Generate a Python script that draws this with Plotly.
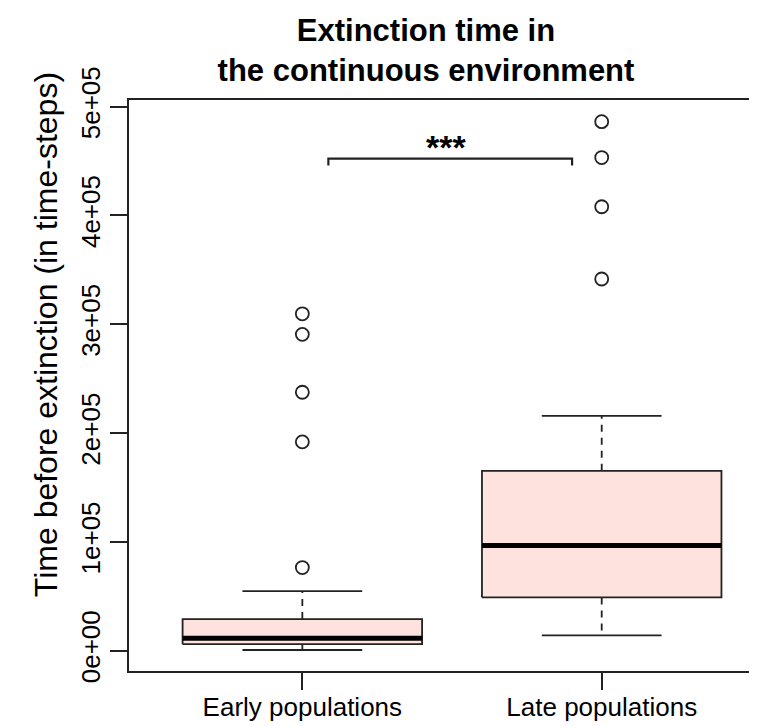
import plotly.graph_objects as go

# values (time-steps)
groups = ["Early populations", "Late populations"]
whisker_low = [600, 14000]
q1 = [6000, 48900]
median = [11500, 96600]
q3 = [29000, 165300]
whisker_high = [54700, 215700]
outliers = [
    [76400, 191900, 237500, 290700, 309600],
    [341600, 408000, 453200, 486200],
]
y_ticks = [0, 100000, 200000, 300000, 400000, 500000]
y_tick_labels = ["0e+00", "1e+05", "2e+05", "3e+05", "4e+05", "5e+05"]
sig_label = "***"

FONT = "Liberation Sans, Arial, sans-serif"
LINE = "#222222"
FILL = "#FDE2DE"
HALF_BOX = 0.4
HALF_CAP = 0.2

fig = go.Figure()


def add_line(xs, ys, width=1.8, dash=None, color=LINE):
    fig.add_trace(go.Scatter(
        x=xs, y=ys, mode="lines",
        line=dict(color=color, width=width, dash=dash),
        hoverinfo="skip", showlegend=False,
    ))


for i, name in enumerate(groups):
    x = i + 1
    # whiskers (dashed) and caps
    add_line([x, x], [q3[i], whisker_high[i]], dash="7px,6px")
    add_line([x, x], [q1[i], whisker_low[i]], dash="7px,6px")
    add_line([x - HALF_CAP, x + HALF_CAP], [whisker_high[i]] * 2)
    add_line([x - HALF_CAP, x + HALF_CAP], [whisker_low[i]] * 2)
    # box
    fig.add_trace(go.Scatter(
        x=[x - HALF_BOX, x + HALF_BOX, x + HALF_BOX, x - HALF_BOX, x - HALF_BOX],
        y=[q1[i], q1[i], q3[i], q3[i], q1[i]],
        mode="lines", fill="toself", fillcolor=FILL,
        line=dict(color=LINE, width=1.8),
        hoverinfo="skip", showlegend=False,
    ))
    # median
    add_line([x - HALF_BOX, x + HALF_BOX], [median[i]] * 2, width=5, color="black")
    # outliers
    fig.add_trace(go.Scatter(
        x=[x] * len(outliers[i]), y=outliers[i], mode="markers",
        marker=dict(symbol="circle-open", size=13, color=LINE, line=dict(width=1.8)),
        hoverinfo="skip", showlegend=False,
    ))

# significance bracket between the two groups
bracket_y = 452300
bracket_drop = 6400
add_line([1.087, 1.087, 1.901, 1.901],
         [bracket_y - bracket_drop, bracket_y, bracket_y, bracket_y - bracket_drop], width=2.2)
fig.add_annotation(
    x=1.48, y=bracket_y, text="<b>" + sig_label + "</b>", showarrow=False,
    yanchor="bottom", yshift=-9, font=dict(family=FONT, size=34, color="black"),
)

# y axis title as annotation so it sits where R put it
fig.add_annotation(
    xref="paper", yref="paper", x=(38 - 121) / 620, y=(665 - 328) / 573,
    text="Time before extinction (in time-steps)", textangle=-90, showarrow=False,
    xanchor="center", yanchor="middle", font=dict(family=FONT, size=32, color="black"),
)

fig.update_xaxes(
    range=[0.421, 2.492], tickvals=[1, 2], ticktext=groups,
    showline=True, mirror=True, linecolor=LINE, linewidth=1.8,
    ticks="outside", ticklen=17, tickwidth=1.8, tickcolor=LINE,
    ticklabelstandoff=-5,
    showgrid=False, zeroline=False,
    tickfont=dict(family=FONT, size=26, color="black"),
)
fig.update_yaxes(
    range=[-18700, 506100], tickvals=y_ticks, ticktext=y_tick_labels, tickangle=-90,
    showline=True, mirror=True, linecolor=LINE, linewidth=1.8,
    ticks="outside", ticklen=17, tickwidth=1.8, tickcolor=LINE,
    showgrid=False, zeroline=False,
    tickfont=dict(family=FONT, size=26, color="black"),
)

fig.update_layout(
    width=757, height=726,
    margin=dict(l=121, r=16, t=92, b=61),
    plot_bgcolor="white", paper_bgcolor="white",
    title=dict(
        text="<b>Extinction time in<br>the continuous environment</b>",
        x=(418 - 121) / 620, xref="paper", xanchor="center",
        y=1 - 33 / 726, yref="container", yanchor="middle",
        font=dict(family=FONT, size=31, color="black"),
    ),
    showlegend=False,
)

fig.write_html("out.html")
